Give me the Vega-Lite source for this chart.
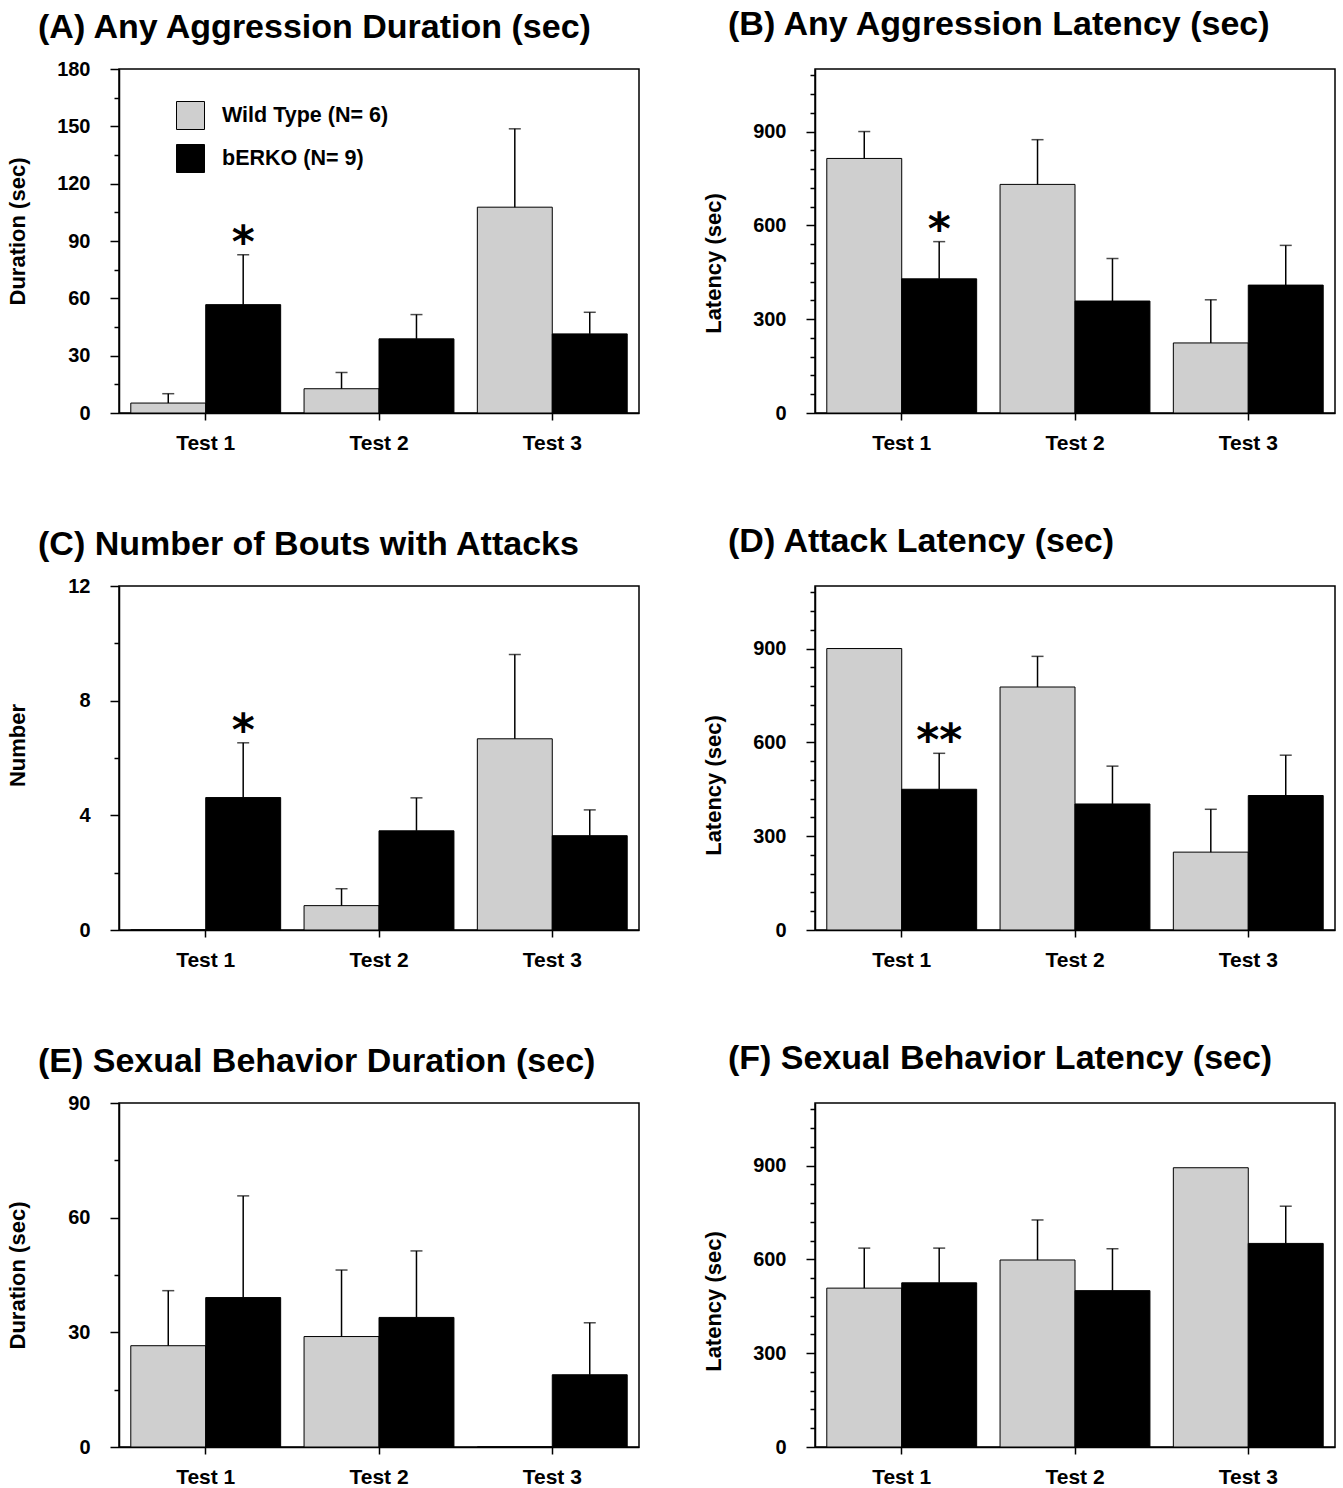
{
  "$schema": "https://vega.github.io/schema/vega-lite/v6.json",
  "padding": {"left": 5, "top": 7, "right": 7, "bottom": 4},
  "background": "white",
  "bounds": "flush",
  "columns": 2,
  "spacing": {"row": 173, "column": 176},
  "resolve": {"legend": {"fill": "independent"}},
  "datasets": {
    "bars": [
      {"panel": "A", "test": "Test 1", "group": "Wild Type (N= 6)", "value": 5.2, "upper": 10.1, "sig": null},
      {"panel": "A", "test": "Test 1", "group": "bERKO (N= 9)", "value": 56.7, "upper": 82.8, "sig": "*"},
      {"panel": "A", "test": "Test 2", "group": "Wild Type (N= 6)", "value": 12.7, "upper": 21.2, "sig": null},
      {"panel": "A", "test": "Test 2", "group": "bERKO (N= 9)", "value": 38.8, "upper": 51.5, "sig": null},
      {"panel": "A", "test": "Test 3", "group": "Wild Type (N= 6)", "value": 107.7, "upper": 148.7, "sig": null},
      {"panel": "A", "test": "Test 3", "group": "bERKO (N= 9)", "value": 41.4, "upper": 52.7, "sig": null},
      {"panel": "B", "test": "Test 1", "group": "Wild Type (N= 6)", "value": 814, "upper": 900, "sig": null},
      {"panel": "B", "test": "Test 1", "group": "bERKO (N= 9)", "value": 429, "upper": 548, "sig": "*"},
      {"panel": "B", "test": "Test 2", "group": "Wild Type (N= 6)", "value": 731, "upper": 874, "sig": null},
      {"panel": "B", "test": "Test 2", "group": "bERKO (N= 9)", "value": 358, "upper": 494, "sig": null},
      {"panel": "B", "test": "Test 3", "group": "Wild Type (N= 6)", "value": 224, "upper": 362, "sig": null},
      {"panel": "B", "test": "Test 3", "group": "bERKO (N= 9)", "value": 409, "upper": 536, "sig": null},
      {"panel": "C", "test": "Test 1", "group": "Wild Type (N= 6)", "value": 0, "upper": null, "sig": null},
      {"panel": "C", "test": "Test 1", "group": "bERKO (N= 9)", "value": 4.62, "upper": 6.53, "sig": "*"},
      {"panel": "C", "test": "Test 2", "group": "Wild Type (N= 6)", "value": 0.85, "upper": 1.44, "sig": null},
      {"panel": "C", "test": "Test 2", "group": "bERKO (N= 9)", "value": 3.46, "upper": 4.61, "sig": null},
      {"panel": "C", "test": "Test 3", "group": "Wild Type (N= 6)", "value": 6.67, "upper": 9.61, "sig": null},
      {"panel": "C", "test": "Test 3", "group": "bERKO (N= 9)", "value": 3.29, "upper": 4.19, "sig": null},
      {"panel": "D", "test": "Test 1", "group": "Wild Type (N= 6)", "value": 900, "upper": null, "sig": null},
      {"panel": "D", "test": "Test 1", "group": "bERKO (N= 9)", "value": 450, "upper": 565, "sig": "**"},
      {"panel": "D", "test": "Test 2", "group": "Wild Type (N= 6)", "value": 777, "upper": 875, "sig": null},
      {"panel": "D", "test": "Test 2", "group": "bERKO (N= 9)", "value": 403, "upper": 524, "sig": null},
      {"panel": "D", "test": "Test 3", "group": "Wild Type (N= 6)", "value": 249, "upper": 386, "sig": null},
      {"panel": "D", "test": "Test 3", "group": "bERKO (N= 9)", "value": 430, "upper": 559, "sig": null},
      {"panel": "E", "test": "Test 1", "group": "Wild Type (N= 6)", "value": 26.5, "upper": 40.9, "sig": null},
      {"panel": "E", "test": "Test 1", "group": "bERKO (N= 9)", "value": 39.1, "upper": 65.7, "sig": null},
      {"panel": "E", "test": "Test 2", "group": "Wild Type (N= 6)", "value": 28.9, "upper": 46.3, "sig": null},
      {"panel": "E", "test": "Test 2", "group": "bERKO (N= 9)", "value": 33.9, "upper": 51.3, "sig": null},
      {"panel": "E", "test": "Test 3", "group": "Wild Type (N= 6)", "value": 0, "upper": null, "sig": null},
      {"panel": "E", "test": "Test 3", "group": "bERKO (N= 9)", "value": 18.9, "upper": 32.5, "sig": null},
      {"panel": "F", "test": "Test 1", "group": "Wild Type (N= 6)", "value": 508, "upper": 636, "sig": null},
      {"panel": "F", "test": "Test 1", "group": "bERKO (N= 9)", "value": 525, "upper": 636, "sig": null},
      {"panel": "F", "test": "Test 2", "group": "Wild Type (N= 6)", "value": 598, "upper": 726, "sig": null},
      {"panel": "F", "test": "Test 2", "group": "bERKO (N= 9)", "value": 500, "upper": 634, "sig": null},
      {"panel": "F", "test": "Test 3", "group": "Wild Type (N= 6)", "value": 893, "upper": null, "sig": null},
      {"panel": "F", "test": "Test 3", "group": "bERKO (N= 9)", "value": 651, "upper": 770, "sig": null}
    ]
  },
  "concat": [
    {
      "width": 520, "height": 344,
      "title": {"text": "(A) Any Aggression Duration (sec)", "dx": -81, "offset": 14},
      "data": {"name": "bars"},
      "transform": [{"filter": "datum.panel === 'A'"}],
      "encoding": {
        "x": {"field": "test", "type": "nominal", "title": null, "scale": {"paddingInner": 0.135, "paddingOuter": 0.068}},
        "xOffset": {"field": "group", "type": "nominal", "sort": ["Wild Type (N= 6)", "bERKO (N= 9)"], "scale": {"paddingInner": 0, "paddingOuter": 0}}
      },
      "layer": [
        {"mark": {"type": "bar", "stroke": "black", "strokeWidth": 1},
         "encoding": {
           "y": {"field": "value", "type": "quantitative", "title": "Duration (sec)", "scale": {"domain": [0, 180], "nice": false},
                 "axis": {"values": [0, 15, 30, 45, 60, 75, 90, 105, 120, 135, 150, 165, 180], "tickCount": 100, "format": "d", "labelExpr": "datum.value % 30 === 0 ? datum.label : ''", "tickDash": {"condition": {"test": "datum.value % 30 !== 0", "value": [5, 30]}, "value": [30, 0]}, "titleY": 162}},
           "fill": {"field": "group", "type": "nominal", "scale": {"domain": ["Wild Type (N= 6)", "bERKO (N= 9)"], "range": ["#cfcfcf", "black"]},
                    "legend": {"title": null, "orient": "none", "legendX": 57, "legendY": 32, "symbolType": "square", "symbolSize": 784, "symbolStrokeColor": "black", "symbolStrokeWidth": 1, "labelFontSize": 21.5, "labelFontWeight": "bold", "labelColor": "black", "labelOffset": 17, "labelLimit": 400, "rowPadding": 10, "padding": 0}}
         }},
        {"transform": [{"filter": "isValid(datum.upper)"}], "mark": {"type": "rule", "strokeWidth": 1.5, "color": "black"},
         "encoding": {"y": {"field": "value", "type": "quantitative", "title": "Duration (sec)"}, "y2": {"field": "upper"}}},
        {"transform": [{"filter": "isValid(datum.upper)"}], "mark": {"type": "tick", "orient": "horizontal", "size": 12, "thickness": 1.5, "color": "black"},
         "encoding": {"y": {"field": "upper", "type": "quantitative", "title": "Duration (sec)"}}},
        {"transform": [{"filter": "isValid(datum.sig)"}], "mark": {"type": "text", "font": "DejaVu Sans", "fontWeight": "bold", "fontSize": 44, "baseline": "alphabetic", "dy": 2, "color": "black"},
         "encoding": {"y": {"field": "upper", "type": "quantitative", "title": "Duration (sec)"}, "text": {"field": "sig"}}}
      ]
    },
    {
      "width": 520, "height": 344,
      "title": {"text": "(B) Any Aggression Latency (sec)", "dx": -87, "offset": 23},
      "data": {"name": "bars"},
      "transform": [{"filter": "datum.panel === 'B'"}],
      "encoding": {
        "x": {"field": "test", "type": "nominal", "title": null, "scale": {"paddingInner": 0.135, "paddingOuter": 0.068}},
        "xOffset": {"field": "group", "type": "nominal", "sort": ["Wild Type (N= 6)", "bERKO (N= 9)"], "scale": {"paddingInner": 0, "paddingOuter": 0}}
      },
      "layer": [
        {"mark": {"type": "bar", "stroke": "black", "strokeWidth": 1},
         "encoding": {
           "y": {"field": "value", "type": "quantitative", "title": "Latency  (sec)", "scale": {"domain": [0, 1100], "nice": false},
                 "axis": {"values": [0, 60, 120, 180, 240, 300, 360, 420, 480, 540, 600, 660, 720, 780, 840, 900, 960, 1020, 1080], "tickCount": 100, "format": "d", "labelExpr": "datum.value % 300 === 0 ? datum.label : ''", "tickDash": {"condition": {"test": "datum.value % 300 !== 0", "value": [5, 30]}, "value": [30, 0]}, "titleY": 194}},
           "fill": {"field": "group", "type": "nominal", "scale": {"domain": ["Wild Type (N= 6)", "bERKO (N= 9)"], "range": ["#cfcfcf", "black"]}, "legend": null}
         }},
        {"transform": [{"filter": "isValid(datum.upper)"}], "mark": {"type": "rule", "strokeWidth": 1.5, "color": "black"},
         "encoding": {"y": {"field": "value", "type": "quantitative", "title": "Latency  (sec)"}, "y2": {"field": "upper"}}},
        {"transform": [{"filter": "isValid(datum.upper)"}], "mark": {"type": "tick", "orient": "horizontal", "size": 12, "thickness": 1.5, "color": "black"},
         "encoding": {"y": {"field": "upper", "type": "quantitative", "title": "Latency  (sec)"}}},
        {"transform": [{"filter": "isValid(datum.sig)"}], "mark": {"type": "text", "font": "DejaVu Sans", "fontWeight": "bold", "fontSize": 44, "baseline": "alphabetic", "dy": 2, "color": "black"},
         "encoding": {"y": {"field": "upper", "type": "quantitative", "title": "Latency  (sec)"}, "text": {"field": "sig"}}}
      ]
    },
    {
      "width": 520, "height": 344,
      "title": {"text": "(C) Number of Bouts with Attacks", "dx": -81, "offset": 14},
      "data": {"name": "bars"},
      "transform": [{"filter": "datum.panel === 'C'"}],
      "encoding": {
        "x": {"field": "test", "type": "nominal", "title": null, "scale": {"paddingInner": 0.135, "paddingOuter": 0.068}},
        "xOffset": {"field": "group", "type": "nominal", "sort": ["Wild Type (N= 6)", "bERKO (N= 9)"], "scale": {"paddingInner": 0, "paddingOuter": 0}}
      },
      "layer": [
        {"mark": {"type": "bar", "stroke": "black", "strokeWidth": 1},
         "encoding": {
           "y": {"field": "value", "type": "quantitative", "title": "Number", "scale": {"domain": [0, 12], "nice": false},
                 "axis": {"values": [0, 2, 4, 6, 8, 10, 12], "tickCount": 100, "format": "d", "labelExpr": "datum.value % 4 === 0 ? datum.label : ''", "tickDash": {"condition": {"test": "datum.value % 4 !== 0", "value": [5, 30]}, "value": [30, 0]}, "titleY": 159}},
           "fill": {"field": "group", "type": "nominal", "scale": {"domain": ["Wild Type (N= 6)", "bERKO (N= 9)"], "range": ["#cfcfcf", "black"]}, "legend": null}
         }},
        {"transform": [{"filter": "isValid(datum.upper)"}], "mark": {"type": "rule", "strokeWidth": 1.5, "color": "black"},
         "encoding": {"y": {"field": "value", "type": "quantitative", "title": "Number"}, "y2": {"field": "upper"}}},
        {"transform": [{"filter": "isValid(datum.upper)"}], "mark": {"type": "tick", "orient": "horizontal", "size": 12, "thickness": 1.5, "color": "black"},
         "encoding": {"y": {"field": "upper", "type": "quantitative", "title": "Number"}}},
        {"transform": [{"filter": "isValid(datum.sig)"}], "mark": {"type": "text", "font": "DejaVu Sans", "fontWeight": "bold", "fontSize": 44, "baseline": "alphabetic", "dy": 2, "color": "black"},
         "encoding": {"y": {"field": "upper", "type": "quantitative", "title": "Number"}, "text": {"field": "sig"}}}
      ]
    },
    {
      "width": 520, "height": 344,
      "title": {"text": "(D) Attack Latency (sec)", "dx": -87, "offset": 23},
      "data": {"name": "bars"},
      "transform": [{"filter": "datum.panel === 'D'"}],
      "encoding": {
        "x": {"field": "test", "type": "nominal", "title": null, "scale": {"paddingInner": 0.135, "paddingOuter": 0.068}},
        "xOffset": {"field": "group", "type": "nominal", "sort": ["Wild Type (N= 6)", "bERKO (N= 9)"], "scale": {"paddingInner": 0, "paddingOuter": 0}}
      },
      "layer": [
        {"mark": {"type": "bar", "stroke": "black", "strokeWidth": 1},
         "encoding": {
           "y": {"field": "value", "type": "quantitative", "title": "Latency  (sec)", "scale": {"domain": [0, 1100], "nice": false},
                 "axis": {"values": [0, 60, 120, 180, 240, 300, 360, 420, 480, 540, 600, 660, 720, 780, 840, 900, 960, 1020, 1080], "tickCount": 100, "format": "d", "labelExpr": "datum.value % 300 === 0 ? datum.label : ''", "tickDash": {"condition": {"test": "datum.value % 300 !== 0", "value": [5, 30]}, "value": [30, 0]}, "titleY": 199}},
           "fill": {"field": "group", "type": "nominal", "scale": {"domain": ["Wild Type (N= 6)", "bERKO (N= 9)"], "range": ["#cfcfcf", "black"]}, "legend": null}
         }},
        {"transform": [{"filter": "isValid(datum.upper)"}], "mark": {"type": "rule", "strokeWidth": 1.5, "color": "black"},
         "encoding": {"y": {"field": "value", "type": "quantitative", "title": "Latency  (sec)"}, "y2": {"field": "upper"}}},
        {"transform": [{"filter": "isValid(datum.upper)"}], "mark": {"type": "tick", "orient": "horizontal", "size": 12, "thickness": 1.5, "color": "black"},
         "encoding": {"y": {"field": "upper", "type": "quantitative", "title": "Latency  (sec)"}}},
        {"transform": [{"filter": "isValid(datum.sig)"}], "mark": {"type": "text", "font": "DejaVu Sans", "fontWeight": "bold", "fontSize": 44, "baseline": "alphabetic", "dy": 2, "color": "black"},
         "encoding": {"y": {"field": "upper", "type": "quantitative", "title": "Latency  (sec)"}, "text": {"field": "sig"}}}
      ]
    },
    {
      "width": 520, "height": 344,
      "title": {"text": "(E) Sexual Behavior Duration (sec)", "dx": -81, "offset": 14},
      "data": {"name": "bars"},
      "transform": [{"filter": "datum.panel === 'E'"}],
      "encoding": {
        "x": {"field": "test", "type": "nominal", "title": null, "scale": {"paddingInner": 0.135, "paddingOuter": 0.068}},
        "xOffset": {"field": "group", "type": "nominal", "sort": ["Wild Type (N= 6)", "bERKO (N= 9)"], "scale": {"paddingInner": 0, "paddingOuter": 0}}
      },
      "layer": [
        {"mark": {"type": "bar", "stroke": "black", "strokeWidth": 1},
         "encoding": {
           "y": {"field": "value", "type": "quantitative", "title": "Duration (sec)", "scale": {"domain": [0, 90], "nice": false},
                 "axis": {"values": [0, 15, 30, 45, 60, 75, 90], "tickCount": 100, "format": "d", "labelExpr": "datum.value % 30 === 0 ? datum.label : ''", "tickDash": {"condition": {"test": "datum.value % 30 !== 0", "value": [5, 30]}, "value": [30, 0]}}},
           "fill": {"field": "group", "type": "nominal", "scale": {"domain": ["Wild Type (N= 6)", "bERKO (N= 9)"], "range": ["#cfcfcf", "black"]}, "legend": null}
         }},
        {"transform": [{"filter": "isValid(datum.upper)"}], "mark": {"type": "rule", "strokeWidth": 1.5, "color": "black"},
         "encoding": {"y": {"field": "value", "type": "quantitative", "title": "Duration (sec)"}, "y2": {"field": "upper"}}},
        {"transform": [{"filter": "isValid(datum.upper)"}], "mark": {"type": "tick", "orient": "horizontal", "size": 12, "thickness": 1.5, "color": "black"},
         "encoding": {"y": {"field": "upper", "type": "quantitative", "title": "Duration (sec)"}}}
      ]
    },
    {
      "width": 520, "height": 344,
      "title": {"text": "(F) Sexual Behavior Latency (sec)", "dx": -87, "offset": 23},
      "data": {"name": "bars"},
      "transform": [{"filter": "datum.panel === 'F'"}],
      "encoding": {
        "x": {"field": "test", "type": "nominal", "title": null, "scale": {"paddingInner": 0.135, "paddingOuter": 0.068}},
        "xOffset": {"field": "group", "type": "nominal", "sort": ["Wild Type (N= 6)", "bERKO (N= 9)"], "scale": {"paddingInner": 0, "paddingOuter": 0}}
      },
      "layer": [
        {"mark": {"type": "bar", "stroke": "black", "strokeWidth": 1},
         "encoding": {
           "y": {"field": "value", "type": "quantitative", "title": "Latency  (sec)", "scale": {"domain": [0, 1100], "nice": false},
                 "axis": {"values": [0, 60, 120, 180, 240, 300, 360, 420, 480, 540, 600, 660, 720, 780, 840, 900, 960, 1020, 1080], "tickCount": 100, "format": "d", "labelExpr": "datum.value % 300 === 0 ? datum.label : ''", "tickDash": {"condition": {"test": "datum.value % 300 !== 0", "value": [5, 30]}, "value": [30, 0]}, "titleY": 198}},
           "fill": {"field": "group", "type": "nominal", "scale": {"domain": ["Wild Type (N= 6)", "bERKO (N= 9)"], "range": ["#cfcfcf", "black"]}, "legend": null}
         }},
        {"transform": [{"filter": "isValid(datum.upper)"}], "mark": {"type": "rule", "strokeWidth": 1.5, "color": "black"},
         "encoding": {"y": {"field": "value", "type": "quantitative", "title": "Latency  (sec)"}, "y2": {"field": "upper"}}},
        {"transform": [{"filter": "isValid(datum.upper)"}], "mark": {"type": "tick", "orient": "horizontal", "size": 12, "thickness": 1.5, "color": "black"},
         "encoding": {"y": {"field": "upper", "type": "quantitative", "title": "Latency  (sec)"}}}
      ]
    }
  ],
  "config": {
    "font": "Liberation Sans",
    "view": {"stroke": "black", "strokeWidth": 1.5},
    "axis": {"domainColor": "black", "domainWidth": 1.5, "tickColor": "black", "tickWidth": 1.5, "labelColor": "black", "labelFont": "Liberation Sans", "labelFontWeight": "bold", "titleFont": "Liberation Sans", "titleFontWeight": "bold", "titleColor": "black", "grid": false},
    "axisX": {"labelAngle": 0, "labelFontSize": 21, "tickSize": 7, "labelPadding": 12},
    "axisY": {"labelFontSize": 20, "tickSize": 9, "labelPadding": 20, "labelOverlap": false, "titleFontSize": 22, "titleX": -90},
    "title": {"font": "Liberation Sans", "fontSize": 34, "fontWeight": "bold", "color": "black", "anchor": "start", "frame": "group", "baseline": "alphabetic"},
    "legend": {"labelFont": "Liberation Sans"}
  }
}
